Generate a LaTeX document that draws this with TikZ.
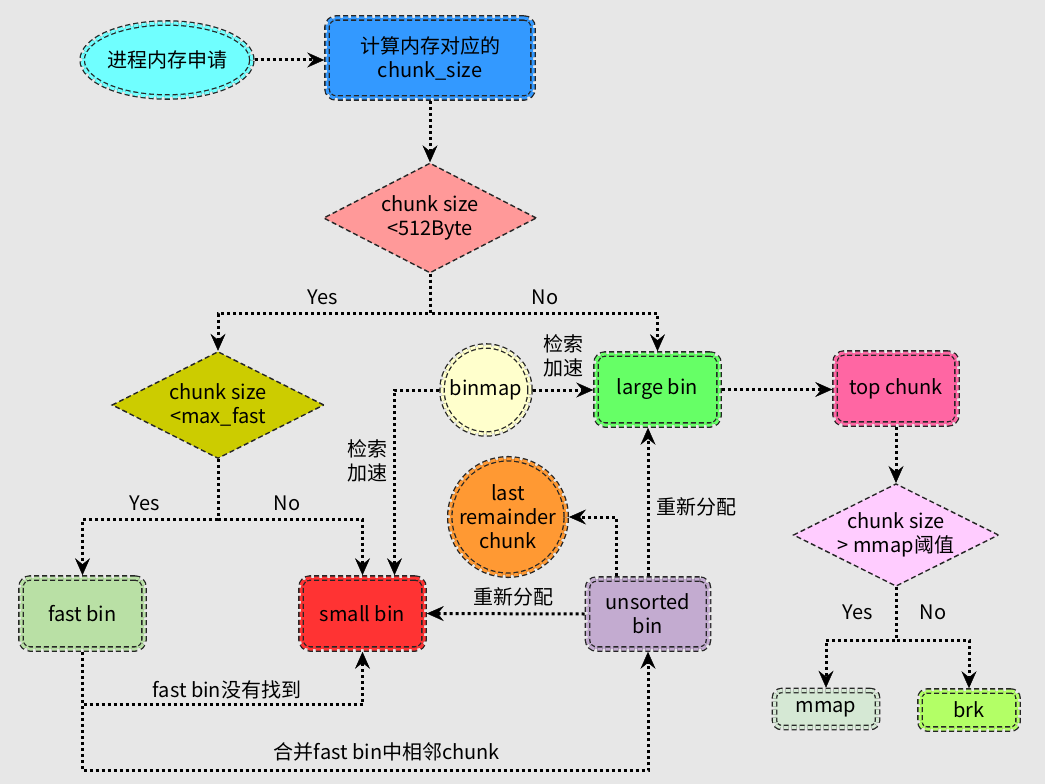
\documentclass[tikz,border=0pt]{standalone}
\usepackage{fontspec}
\setmainfont{Noto Sans CJK SC}
\usepackage{tikz}
\usepackage{color}
\usetikzlibrary{shapes.geometric}
\usetikzlibrary{arrows.meta}

\definecolor{bgc}{RGB}{231,231,231}
\definecolor{cyanC}{HTML}{70FFFF}
\definecolor{blueC}{HTML}{3399FF}
\definecolor{salmonC}{HTML}{FF9999}
\definecolor{oliveC}{HTML}{CCCC00}
\definecolor{creamC}{HTML}{FFFFCC}
\definecolor{greenC}{HTML}{66FF66}
\definecolor{pinkC}{HTML}{FF66A3}
\definecolor{lilacC}{HTML}{FFCCFF}
\definecolor{orangeC}{HTML}{FF9933}
\definecolor{sageC}{HTML}{B9E0A5}
\definecolor{redC}{HTML}{FF3333}
\definecolor{purpleC}{HTML}{C3ABD0}
\definecolor{mintC}{HTML}{D5E8D4}
\definecolor{limeC}{HTML}{B3FF66}

\tikzset{
  dbox/.style={draw=black!85, fill=#1, double=#1, double distance=3pt, line width=1.3pt,
    dash pattern=on 5pt off 3pt, rounded corners=9pt, align=center,
    inner sep=0pt, outer sep=2.8pt},
  dround/.style={draw=black!85, fill=#1, double=#1, double distance=3pt, line width=1.3pt,
    dash pattern=on 5pt off 3pt, align=center, inner sep=0pt, outer sep=2.8pt},
  dtest/.style={diamond, draw=black!85, fill=#1, line width=1.4pt, dash pattern=on 5pt off 3pt,
    align=center, inner sep=0pt, aspect=2},
  flow/.style={line width=3pt, dash pattern=on 3pt off 3pt,
    -{Stealth[length=17pt,width=15pt,inset=6pt,line width=0.4pt]}},
  lbl/.style={inner sep=0pt, align=center}
}

\begin{document}
\begin{tikzpicture}[x=1pt,y=1pt,yscale=-1,xscale=1,font=\fontsize{20pt}{24pt}\selectfont]
\fill[bgc] (0,0) rectangle (1045,784);
%Shape: Ellipse
\node[dround=cyanC, ellipse, minimum width=168pt, minimum height=74pt] (start) at (167,60) {进程内存申请};
%Shape: Rectangle
\node[dbox=blueC, minimum width=206pt, minimum height=80pt] (calc) at (430,58) {计算内存对应的\\chunk\_size};
%Shape: Diamond
\node[dtest=salmonC, minimum width=213pt, minimum height=110pt] (sizeA) at (430,218) {chunk size\\<512Byte};
%Shape: Diamond
\node[dtest=oliveC, minimum width=212pt, minimum height=107pt] (sizeB) at (218,405) {chunk size\\<max\_fast};
%Shape: Circle
\node[dround=creamC, circle, minimum size=88pt] (binmap) at (486,390) {binmap};
%Shape: Rectangle
\node[dbox=greenC, minimum width=123pt, minimum height=71pt] (large) at (657.5,389.5) {large bin};
%Shape: Rectangle
\node[dbox=pinkC, minimum width=122pt, minimum height=71pt] (top) at (896,388.5) {top chunk};
%Shape: Diamond
\node[dtest=lilacC, minimum width=197pt, minimum height=93pt] (sizeC) at (896,535) {chunk size\\> mmap阈值};
%Shape: Circle
\node[dround=orangeC, circle, minimum size=110pt] (lastrem) at (508,517) {last\\remainder\\chunk};
%Shape: Rectangle
\node[dbox=sageC, minimum width=123pt, minimum height=71pt] (fast) at (82.5,613.5) {fast bin};
%Shape: Rectangle
\node[dbox=redC, minimum width=123pt, minimum height=71pt] (small) at (362.5,613.5) {small bin};
%Shape: Rectangle
\node[dbox=purpleC, minimum width=121pt, minimum height=70pt] (unsorted) at (648,614) {unsorted\\bin};
%Shape: Rectangle
\node[dbox=mintC, minimum width=103pt, minimum height=37pt, rounded corners=7pt] (mmap) at (826,709) {mmap};
%Shape: Rectangle
\node[dbox=limeC, minimum width=98pt, minimum height=38pt, rounded corners=7pt] (brk) at (969,710) {brk};

%Straight Lines
\draw[flow] (start.east) -- (start.east -| calc.west);
\draw[flow] (calc.south) -- (sizeA.north);
%Straight Lines
\draw[flow] (sizeA.south) -- ++(0,40) -| (sizeB.north);
\draw[flow] (sizeA.south) -- ++(0,40) -| (large.north);
%Straight Lines
\draw[flow] (sizeB.south) -- ++(0,60) -| (fast.north);
\draw[flow] (sizeB.south) -- ++(0,60) -| (small.north);
%Straight Lines
\draw[flow] (binmap.west) -| ([xshift=32pt]small.north);
\draw[flow] (binmap.east) -- (binmap.east -| large.west);
\draw[flow] (large.east) -- (large.east -| top.west);
\draw[flow] (top.south) -- (sizeC.north);
%Straight Lines
\draw[flow] (sizeC.south) -- ++(0,53) -| (mmap.north);
\draw[flow] (sizeC.south) -- ++(0,53) -| (brk.north);
%Straight Lines
\draw[flow] (unsorted.west) -- (small.east);
\draw[flow] ([xshift=-32pt]unsorted.north) |- (lastrem.east);
\draw[flow] (unsorted.north) -- (unsorted.north |- large.south);
%Straight Lines
\draw[flow] (fast.south) -- ++(0,53) -| (small.south);
\draw[flow] (fast.south) -- ++(0,119) -| (unsorted.south);

% Text Node
\node[lbl] (yesA) at (323,297) {Yes};
% Text Node
\node[lbl] (noA) at (545,297) {No};
% Text Node
\node[lbl] (yesB) at (145,503) {Yes};
% Text Node
\node[lbl] (noB) at (287,503) {No};
% Text Node
\node[lbl] (yesC) at (858,612) {Yes};
% Text Node
\node[lbl] (noC) at (933,612) {No};
% Text Node
\node[lbl] (speedA) at (563,356) {检索\\加速};
% Text Node
\node[lbl] (speedB) at (367,461) {检索\\加速};
% Text Node
\node[lbl] (reallocA) at (696,507) {重新分配};
% Text Node
\node[lbl] (reallocB) at (513,597) {重新分配};
% Text Node
\node[lbl] (miss) at (227,690) {fast bin没有找到};
% Text Node
\node[lbl] (merge) at (387,752) {合并fast bin中相邻chunk};
\end{tikzpicture}
\end{document}
